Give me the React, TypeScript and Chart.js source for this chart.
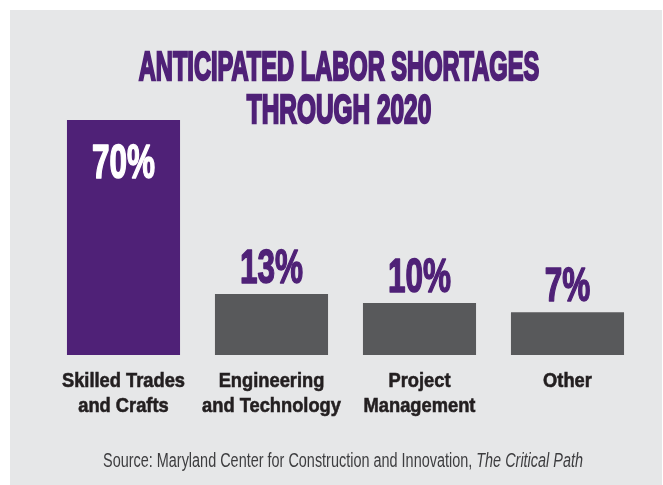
import React, { useEffect, useRef } from "react";
import { Chart, registerables } from "chart.js";

Chart.register(...registerables);

// ---- data ----
const categories: string[][] = [
  ["Skilled Trades", "and Crafts"],
  ["Engineering", "and Technology"],
  ["Project", "Management"],
  ["Other"],
];
const shortagePct: number[] = [70, 13, 10, 7];
const barColors: string[] = ["#4f2177", "#58595b", "#58595b", "#58595b"];
const titleLines: string[] = ["ANTICIPATED LABOR SHORTAGES", "THROUGH 2020"];
const sourcePlain = "Source: Maryland Center for Construction and Innovation, ";
const sourceItalic = "The Critical Path";
// the original graphic draws its bars from a visual baseline below zero
const axisBase = -7;
const axisMax = 70;

const SANS = "'Liberation Sans', Arial, sans-serif";
const PURPLE = "#4f2177";
const DARK = "#231f20";

// target widths of the condensed display type (px)
const titleWidths = [402, 186];
const sourceWidth = 480;

function measure(text: string, font: string): number {
  const c = document.createElement("canvas").getContext("2d");
  if (!c) return 1;
  c.font = font;
  return c.measureText(text).width;
}

const valueLabelPlugin = {
  id: "valueLabels",
  afterDatasetsDraw(chart: any) {
    const ctx = chart.ctx as CanvasRenderingContext2D;
    const meta = chart.getDatasetMeta(0);
    const maxVal = Math.max(...shortagePct);
    ctx.save();
    ctx.font = `bold 49px ${SANS}`;
    const sx = 63 / ctx.measureText("13%").width;
    meta.data.forEach((el: any, i: number) => {
      const { x, y } = el.getProps(["x", "y"], true);
      const inside = shortagePct[i] === maxVal;
      const by = inside ? y + 58 : y - 11;
      const col = inside ? "#ffffff" : PURPLE;
      ctx.save();
      ctx.translate(x, by);
      ctx.scale(sx, 1);
      ctx.textAlign = "center";
      ctx.textBaseline = "alphabetic";
      ctx.fillStyle = col;
      ctx.strokeStyle = col;
      ctx.lineWidth = 1.6;
      ctx.lineJoin = "round";
      ctx.fillText(`${shortagePct[i]}%`, 0, 0);
      ctx.strokeText(`${shortagePct[i]}%`, 0, 0);
      ctx.restore();
    });
    ctx.restore();
  },
};

const categoryLabelPlugin = {
  id: "categoryLabels",
  afterDraw(chart: any) {
    const ctx = chart.ctx as CanvasRenderingContext2D;
    const xs = chart.scales.x;
    const bottom = chart.chartArea.bottom;
    ctx.save();
    ctx.font = `bold 21px ${SANS}`;
    const sx = 123 / ctx.measureText(categories[0][0]).width;
    categories.forEach((lines, i) => {
      const cx = xs.getPixelForTick(i);
      lines.forEach((line, j) => {
        ctx.save();
        ctx.translate(cx, bottom + 32 + j * 25);
        ctx.scale(sx, 1);
        ctx.textAlign = "center";
        ctx.textBaseline = "alphabetic";
        ctx.fillStyle = DARK;
        ctx.strokeStyle = DARK;
        ctx.lineWidth = 0.6;
        ctx.fillText(line, 0, 0);
        ctx.strokeText(line, 0, 0);
        ctx.restore();
      });
    });
    ctx.restore();
  },
};

export default function App() {
  const canvasRef = useRef<HTMLCanvasElement | null>(null);

  useEffect(() => {
    if (!canvasRef.current) return;
    const chart = new Chart(canvasRef.current, {
      type: "bar",
      data: {
        labels: categories as any,
        datasets: [
          {
            data: shortagePct,
            backgroundColor: barColors,
            base: axisBase,
            barPercentage: 1,
            categoryPercentage: 0.764,
            borderWidth: 0,
          } as any,
        ],
      },
      options: {
        responsive: false,
        animation: false,
        layout: { padding: { left: 39.5, right: 20.5, top: 110, bottom: 130 } },
        plugins: {
          legend: { display: false },
          tooltip: { enabled: false },
          title: { display: false },
        },
        scales: {
          x: {
            grid: { display: false, drawTicks: false },
            border: { display: false },
            ticks: { display: false },
          },
          y: { display: false, min: axisBase, max: axisMax },
        },
      } as any,
      plugins: [valueLabelPlugin, categoryLabelPlugin],
    });
    return () => chart.destroy();
  }, []);

  const titleFont = `bold 41px ${SANS}`;
  const srcW =
    measure(sourcePlain, `19.5px ${SANS}`) + measure(sourceItalic, `italic 19.5px ${SANS}`);
  const srcScale = sourceWidth / srcW;

  return (
    <div
      style={{
        position: "absolute",
        left: 10,
        top: 10,
        width: 652,
        height: 475,
        background: "#e6e7e8",
        overflow: "hidden",
      }}
    >
      <canvas
        ref={canvasRef}
        width={652}
        height={475}
        style={{ position: "absolute", left: 0, top: 0, width: 652, height: 475 }}
      />
      {titleLines.map((line, i) => (
        <span
          key={i}
          style={{
            position: "absolute",
            left: 329,
            top: 35 + i * 43,
            fontFamily: SANS,
            fontWeight: "bold",
            fontSize: 41,
            lineHeight: "43px",
            color: PURPLE,
            WebkitTextStroke: `2.4px ${PURPLE}`,
            whiteSpace: "nowrap",
            transform: `translateX(-50%) scaleX(${(titleWidths[i] - 1.5) / measure(line, titleFont)})`,
          }}
        >
          {line}
        </span>
      ))}
      <span
        style={{
          position: "absolute",
          left: 333,
          top: 440.5,
          fontFamily: SANS,
          fontSize: 19.5,
          lineHeight: "19.5px",
          color: "#3d3d3f",
          whiteSpace: "nowrap",
          transform: `translateX(-50%) scaleX(${srcScale})`,
        }}
      >
        {sourcePlain}
        <i>{sourceItalic}</i>
      </span>
    </div>
  );
}
